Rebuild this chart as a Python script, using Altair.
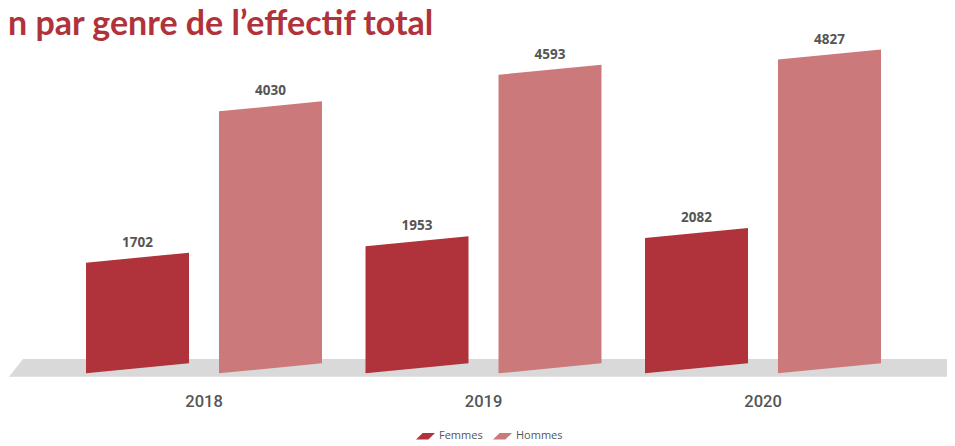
import altair as alt
import pandas as pd

# ---- data ----
years = ["2018", "2019", "2020"]
genres = ["Femmes", "Hommes"]
femmes = [1702, 1953, 2082]
hommes = [4030, 4593, 4827]
title_text = "n par genre de l’effectif total"

colors = ["#b0323a", "#cc797c"]

rows = []
for i, yr in enumerate(years):
    for gi, (g, vals) in enumerate(zip(genres, [femmes, hommes])):
        rows.append({"annee": yr, "idx": i, "genre": g, "gi": gi, "valeur": vals[i]})
bars_df = pd.DataFrame(rows)
years_df = pd.DataFrame({"annee": years, "idx": list(range(len(years)))})

# ---- layout constants ----
BARW = 0.3685   # bar width in group units
GAP = 0.1073    # gap between the two bars of a group
SLANT = 154     # perspective rise of the bar top/bottom (value units)
H = 438

x_scale = alt.Scale(domain=[-0.7013, 2.6583])
y_scale = alt.Scale(domain=[-(H - 365.3) / 0.065, 5620])

color_scale = alt.Scale(domain=genres, range=colors)

legend_path = "M-1,0.33L0.3,0.33L1,-0.33L-0.3,-0.33Z"
floor_path = "M-1,0.0187L-0.9704,-0.0187L1,-0.0187L0.9894,0.0187Z"

base = alt.Chart(bars_df).transform_calculate(
    left=f"datum.idx + (datum.gi == 0 ? {-(GAP/2 + BARW)} : {GAP/2})",
    key="datum.annee + '-' + datum.genre",
)

bars = base.transform_calculate(
    edge="[0, 1]"
).transform_flatten(["edge"]).transform_calculate(
    px=f"datum.left + datum.edge * {BARW}",
    ytop=f"datum.valeur + datum.edge * {SLANT}",
    ybot=f"datum.edge * {SLANT}",
).mark_area(opacity=1, interpolate="linear").encode(
    x=alt.X("px:Q", scale=x_scale, axis=None),
    y=alt.Y("ytop:Q", scale=y_scale, axis=None),
    y2="ybot:Q",
    detail="key:N",
    color=alt.Color(
        "genre:N",
        scale=color_scale,
        legend=alt.Legend(
            title=None,
            orient="none",
            direction="horizontal",
            legendX=408,
            legendY=418.5,
            symbolType=legend_path,
            symbolSize=361,
            symbolStrokeWidth=0,
            symbolOpacity=1,
            labelFont="Open Sans",
            labelFontSize=11,
            labelColor="#555555",
            labelOffset=4,
            columnPadding=10,
        ),
    ),
)

labels = base.transform_calculate(
    xc=f"datum.left + {BARW/2}",
    yc=f"datum.valeur + {SLANT/2}",
).mark_text(
    font="Open Sans", fontWeight="bold", fontSize=13.5, color="#555555",
    baseline="middle", align="center", dy=-15,
).encode(
    x=alt.X("xc:Q", scale=x_scale, axis=None),
    y=alt.Y("yc:Q", scale=y_scale, axis=None),
    text="valeur:Q",
)

year_labels = alt.Chart(years_df).mark_text(
    font="Roboto", fontWeight=500, fontSize=16.5, color="#555555",
    baseline="middle", align="center",
).encode(
    x=alt.X("idx:Q", scale=x_scale, axis=None),
    y=alt.value(394),
    text="annee:N",
)

floor = alt.Chart(pd.DataFrame({"f": [0]})).mark_point(
    shape=floor_path, size=896809, filled=True, color="#d9d9d9",
    opacity=1, strokeWidth=0,
).encode(x=alt.value(474.5), y=alt.value(359.85))

title = alt.Chart(pd.DataFrame({"t": [title_text]})).mark_text(
    font="Lato", fontWeight="bold", fontSize=34, color="#b0323a",
    align="left", baseline="alphabetic",
).encode(x=alt.value(0), y=alt.value(27), text="t:N")

chart = alt.layer(floor, bars, labels, year_labels, title).properties(
    width=939, height=H, padding=0, autosize=alt.AutoSizeParams(type="none")
).configure_view(stroke=None)

chart.save("out.html", embed_options={"renderer": "svg", "actions": False})
